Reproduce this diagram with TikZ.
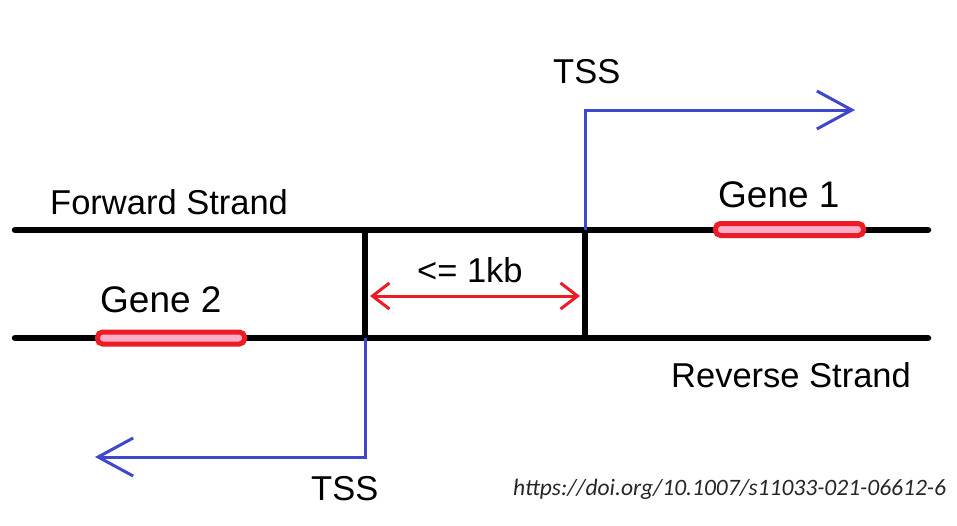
\documentclass[tikz,border=0pt]{standalone}
\usepackage{fontspec}
\setmainfont{Liberation Sans}
\setsansfont{Liberation Sans}
\newfontfamily\doifont{Carlito}
\usetikzlibrary{arrows.meta}
\definecolor{pred}{HTML}{ED1C24}
\definecolor{prose}{HTML}{FFAEC9}
\definecolor{pblue}{HTML}{3F48CC}
\begin{document}
\begin{tikzpicture}[x=1pt,y=-1pt,
  strand/.style={line width=6.5pt,line cap=round},
  divider/.style={line width=5.5pt},
  gene/.style={draw=pred,fill=prose,line width=5pt,rounded corners=5pt,
    minimum height=12pt,inner sep=0pt},
  tss/.style={pblue,line width=3pt,
    -{Straight Barb[length=35pt,width=38pt,line width=3pt]}},
  span/.style={pred,line width=3pt,
    {Straight Barb[length=17pt,width=26pt,line width=3pt]}-{Straight Barb[length=17pt,width=26pt,line width=3pt]}},
  lbl/.style={anchor=base west,inner sep=0pt,font=\fontsize{34.5}{40}\selectfont},
  glbl/.style={anchor=base west,inner sep=0pt,font=\fontsize{37}{42}\selectfont}]
\useasboundingbox (0,0) rectangle (957,525);
\fill[white] (0,0) rectangle (957,525);
% strands
\coordinate (F0) at (15,230);
\coordinate (F1) at (928,230);
\coordinate (R0) at (15,338);
\coordinate (R1) at (928,338);
\coordinate (A) at (365,230);
\coordinate (B) at (585,230);
\coordinate (Ar) at (365,338);
\coordinate (Br) at (585,338);
\coordinate (T1) at (855,110);
\coordinate (T2) at (95,457);
\coordinate (L1) at (370,296);
\coordinate (L2) at (580,296);
\draw[strand] (F0) -- (F1);
\draw[strand] (R0) -- (R1);
\draw[divider] (A) -- (Ar);
\draw[divider] (B) -- (Br);
% genes
\node[gene,minimum width=148pt] (g1) at (789.5,229.5) {};
\node[gene,minimum width=147pt] (g2) at (171,338) {};
% TSS arrows
\draw[tss] (B) |- (T1);
\draw[tss] (Ar) |- (T2);
% distance
\draw[span] (L1) -- (L2);
% labels
\node[lbl] (tss1) at (553,83) {TSS};
\node[lbl] (tss2) at (311,500) {TSS};
\node[lbl] (fwd) at (50,214) {Forward Strand};
\node[lbl] (rev) at (671,387) {Reverse Strand};
\node[glbl] (gl1) at (718,207) {Gene 1};
\node[glbl] (gl2) at (100,312) {Gene 2};
\node[lbl] (dist) at (417,282) {<= 1kb};
\node[anchor=base west,inner sep=0pt,text=black!85,
  font=\doifont\itshape\fontsize{23.5}{28}\selectfont] (doi) at (513,495)
  {https://doi.org/10.1007/s11033-021-06612-6};
\end{tikzpicture}
\end{document}
